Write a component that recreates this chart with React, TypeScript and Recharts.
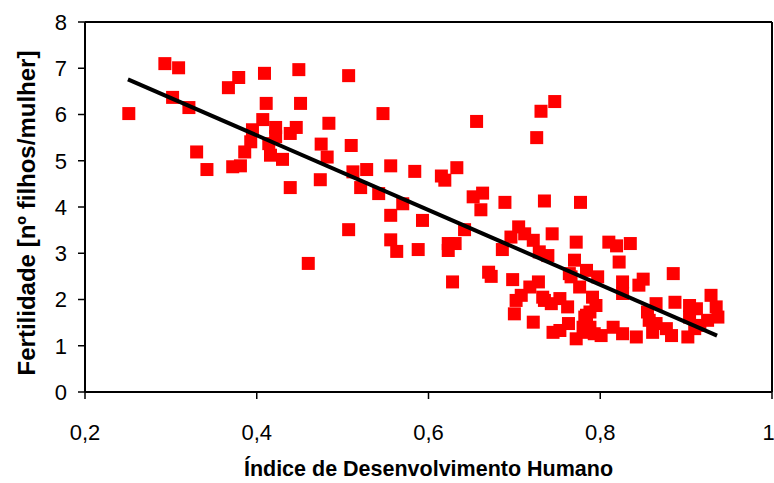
import {
  ScatterChart,
  Scatter,
  XAxis,
  YAxis,
  ReferenceLine,
} from 'recharts';

// IDH (x) e fertilidade (y) por país
const idh = [
  0.251, 0.293, 0.309, 0.302, 0.321, 0.33, 0.342, 0.367, 0.379, 0.409,
  0.411, 0.449, 0.451, 0.407, 0.395, 0.422, 0.422, 0.446, 0.439, 0.393,
  0.414, 0.484, 0.475, 0.482, 0.386, 0.416, 0.43, 0.372, 0.381, 0.439,
  0.474, 0.507, 0.547, 0.51, 0.512, 0.528, 0.556, 0.584, 0.521, 0.542,
  0.615, 0.619, 0.633, 0.656, 0.731, 0.747, 0.726, 0.652, 0.663, 0.689,
  0.735, 0.777, 0.57, 0.556, 0.593, 0.507, 0.556, 0.563, 0.588, 0.623,
  0.631, 0.623, 0.642, 0.661, 0.628, 0.67, 0.673, 0.698, 0.686, 0.696,
  0.705, 0.712, 0.722, 0.729, 0.739, 0.744, 0.772, 0.77, 0.766, 0.776,
  0.728, 0.718, 0.708, 0.702, 0.7, 0.733, 0.743, 0.753, 0.762, 0.722,
  0.745, 0.763, 0.772, 0.78, 0.784, 0.81, 0.819, 0.835, 0.822, 0.784,
  0.797, 0.826, 0.85, 0.845, 0.885, 0.826, 0.791, 0.795, 0.788, 0.865,
  0.887, 0.904, 0.912, 0.929, 0.935, 0.937, 0.925, 0.916, 0.904, 0.855,
  0.857, 0.865, 0.877, 0.861, 0.883, 0.902, 0.91, 0.842, 0.826, 0.815,
  0.801, 0.784, 0.753, 0.788, 0.782, 0.46, 0.764, 0.735, 0.793,
];
const fertilidade = [
  6.02, 7.1, 7.01, 6.37, 6.15, 5.19, 4.81, 6.58, 6.8, 6.89,
  6.24, 6.97, 6.24, 5.89, 5.67, 5.72, 5.52, 5.72, 5.59, 5.41,
  5.37, 5.81, 5.36, 5.08, 5.19, 5.12, 5.03, 4.87, 4.89, 4.42,
  4.59, 6.84, 6.02, 5.33, 4.76, 4.81, 4.89, 4.77, 4.42, 4.29,
  4.67, 4.58, 4.85, 5.85, 6.07, 6.28, 5.5, 4.22, 4.3, 4.1,
  4.13, 4.1, 4.07, 3.82, 3.71, 3.51, 3.29, 3.04, 3.08, 3.21,
  3.21, 3.06, 3.51, 3.94, 2.38, 2.59, 2.5, 2.43, 3.08, 3.35,
  3.57, 3.42, 3.28, 3.03, 2.95, 3.42, 3.24, 2.85, 2.49, 2.27,
  2.38, 2.27, 2.09, 1.98, 1.69, 2.05, 1.91, 2.02, 1.84, 1.51,
  1.29, 1.48, 1.15, 1.4, 1.66, 3.24, 3.16, 3.21, 2.81, 2.63,
  2.49, 2.38, 2.44, 2.31, 2.56, 2.13, 2.05, 1.87, 1.73, 1.91,
  1.94, 1.87, 1.8, 2.09, 1.84, 1.62, 1.55, 1.44, 1.62, 1.73,
  1.55, 1.48, 1.37, 1.29, 1.22, 1.19, 1.37, 1.19, 1.26, 1.4,
  1.22, 1.29, 1.33, 1.4, 1.62, 2.78, 2.56, 1.98, 1.26,
];

// linha de tendência (extremos)
const trendX = [0.25, 0.936];
const trendY = [6.76, 1.22];

const xTicks = [0.2, 0.4, 0.6, 0.8, 1];
const yTicks = [0, 1, 2, 3, 4, 5, 6, 7, 8];

const font = 'Liberation Sans, Arial, sans-serif';

const points = idh.map((x, i) => ({ x, y: fertilidade[i] }));
const trend = trendX.map((x, i) => ({ x, y: trendY[i] }));

const Square = (props: any) => {
  const { cx, cy } = props;
  if (cx == null || cy == null) return <g />;
  return <rect x={cx - 6.5} y={cy - 6.5} width={13} height={13} fill="#ff0000" />;
};

const Nothing = () => <g />;

const YLabel = (props: any) => {
  const vb = props.viewBox;
  const x = vb.x + 26;
  const y = vb.y + vb.height / 2 + 6;
  return (
    <text
      x={x}
      y={y}
      transform={`rotate(-90 ${x} ${y})`}
      textAnchor="middle"
      dominantBaseline="central"
      fontFamily={font}
      fontWeight="bold"
      fontSize={24}
      fill="#000"
    >
      Fertilidade [nº filhos/mulher]
    </text>
  );
};

export default function App() {
  const tick = { fontFamily: font, fontSize: 22, fill: '#000' };
  return (
    <div style={{ position: 'absolute', left: 0, top: 0, background: '#fff' }}>
      <ScatterChart
        width={774}
        height={483}
        margin={{ top: 22, right: 2, bottom: 0, left: 0 }}
      >
        <XAxis
          type="number"
          dataKey="x"
          domain={[0.2, 1]}
          ticks={xTicks}
          tickFormatter={(v) => String(v).replace('.', ',')}
          height={91}
          tickSize={7}
          tickMargin={25}
          tick={tick}
          axisLine={{ stroke: '#000', strokeWidth: 2 }}
          tickLine={{ stroke: '#000', strokeWidth: 1.5 }}
          allowDataOverflow
          label={{
            value: 'Índice de Desenvolvimento Humano',
            position: 'insideBottom',
            offset: 7,
            style: { fontFamily: font, fontWeight: 'bold', fontSize: 21.5, fill: '#000' },
          }}
        />
        <YAxis
          type="number"
          dataKey="y"
          domain={[0, 8]}
          ticks={yTicks}
          width={85}
          tickSize={7}
          tickMargin={11}
          tick={tick}
          axisLine={{ stroke: '#000', strokeWidth: 2 }}
          tickLine={{ stroke: '#000', strokeWidth: 1.5 }}
          allowDataOverflow
          label={<YLabel />}
        />
        <ReferenceLine y={8} stroke="#000" strokeWidth={2} />
        <ReferenceLine x={1} stroke="#000" strokeWidth={2} />
        <Scatter data={points} shape={<Square />} isAnimationActive={false} />
        <Scatter
          data={trend}
          shape={<Nothing />}
          line={{ stroke: '#000', strokeWidth: 4 }}
          isAnimationActive={false}
        />
      </ScatterChart>
    </div>
  );
}
